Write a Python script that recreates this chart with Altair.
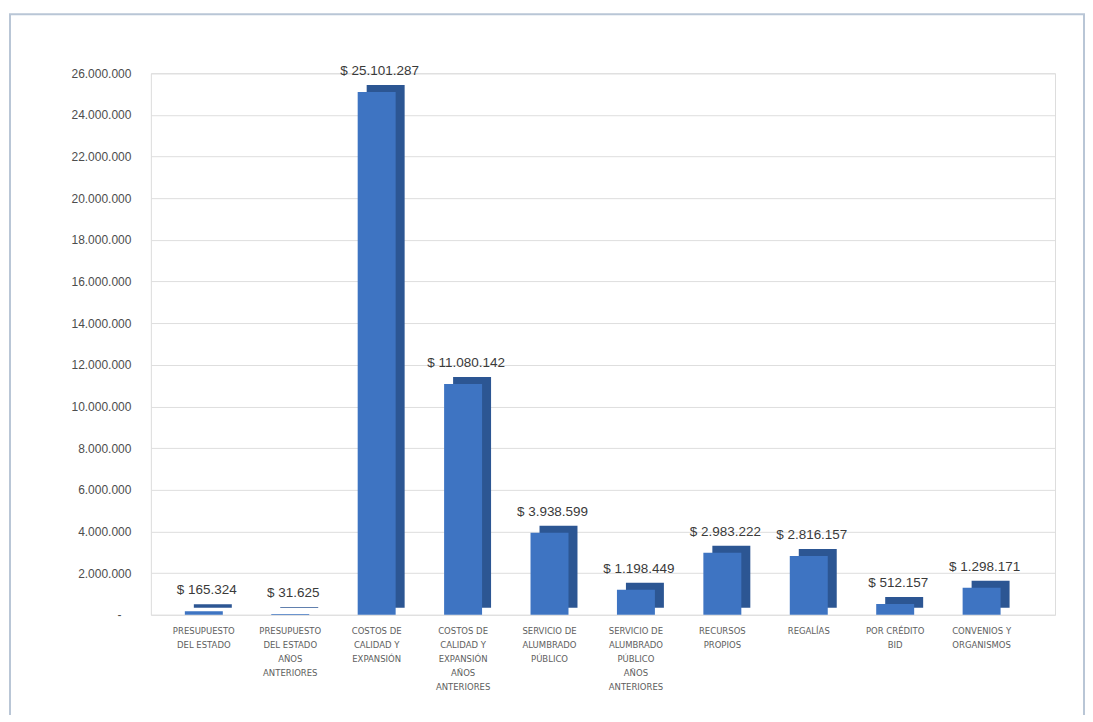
import altair as alt
import pandas as pd

categories = [
    "PRESUPUESTO DEL ESTADO",
    "PRESUPUESTO DEL ESTADO AÑOS ANTERIORES",
    "COSTOS DE CALIDAD Y EXPANSIÓN",
    "COSTOS DE CALIDAD Y EXPANSIÓN AÑOS ANTERIORES",
    "SERVICIO DE ALUMBRADO PÚBLICO",
    "SERVICIO DE ALUMBRADO PÚBLICO AÑOS ANTERIORES",
    "RECURSOS PROPIOS",
    "REGALÍAS",
    "POR CRÉDITO BID",
    "CONVENIOS Y ORGANISMOS",
]
label_lines = [
    ["PRESUPUESTO", "DEL ESTADO"],
    ["PRESUPUESTO", "DEL ESTADO", "AÑOS", "ANTERIORES"],
    ["COSTOS DE", "CALIDAD Y", "EXPANSIÓN"],
    ["COSTOS DE", "CALIDAD Y", "EXPANSIÓN", "AÑOS", "ANTERIORES"],
    ["SERVICIO DE", "ALUMBRADO", "PÚBLICO"],
    ["SERVICIO DE", "ALUMBRADO", "PÚBLICO", "AÑOS", "ANTERIORES"],
    ["RECURSOS", "PROPIOS"],
    ["REGALÍAS"],
    ["POR CRÉDITO", "BID"],
    ["CONVENIOS Y", "ORGANISMOS"],
]
values = [165324, 31625, 25101287, 11080142, 3938599, 1198449,
          2983222, 2816157, 512157, 1298171]
y_ticks = list(range(0, 26000001, 2000000))

df = pd.DataFrame({"cat": categories, "value": values})
df["label"] = ["$ " + f"{v:,}".replace(",", ".") for v in values]

label_map = {c: l for c, l in zip(categories, label_lines)}
label_expr = "{" + ",".join(
    '"%s":[%s]' % (c, ",".join('"%s"' % s for s in l)) for c, l in label_map.items()
) + "}[datum.value]"

font = "Liberation Sans"

x = alt.X(
    "cat:N",
    sort=categories,
    title=None,
    scale=alt.Scale(paddingInner=0, paddingOuter=0.2312, align=0.244),
    axis=alt.Axis(
        labelExpr=label_expr,
        labelAngle=0,
        labelFontSize=8.5,
        labelColor="#5e5e5e",
        labelFont="DejaVu Sans",
        labelPadding=12,
        labelLineHeight=14,
        ticks=False,
        domain=False,
        grid=False,
        labelBaseline="top",
    ),
)
y = alt.Y(
    "value:Q",
    title=None,
    scale=alt.Scale(domain=[0, 26000000], nice=False),
    axis=alt.Axis(
        values=y_ticks,
        labelExpr="datum.value === 0 ? '-' : replace(format(datum.value, ',.0f'), /,/g, '.')",
        labelFontSize=12,
        labelColor="#4d4d4d",
        labelFont=font,
        labelPadding={"condition": {"test": "datum.value === 0", "value": 30}, "value": 20},
        ticks=False,
        domain=False,
        grid=True,
        gridColor="#dedede",
        gridWidth=1,
    ),
)

base = alt.Chart(df)

depth = base.mark_bar(size=38, color="#2c5693", xOffset=9, yOffset=-7).encode(x=x, y=y)
front = base.mark_bar(size=38, color="#3e74c2").encode(x=x, y=y)
text = base.mark_text(
    dy=-14, fontSize=13.5, color="#3a3a3a", font=font, baseline="bottom", dx=3
).encode(x=x, y=y, text="label:N")

frame = alt.Chart(pd.DataFrame({"a": [0]})).mark_rect(
    fill=None, stroke="#b9c6d6", strokeWidth=2
).encode(
    x=alt.value(-141), x2=alt.value(934), y=alt.value(-59), y2=alt.value(720)
)

chart = alt.layer(frame, depth, front, text).properties(
    width=905,
    height=542,
    padding={"left": 143, "top": 65, "right": 30, "bottom": 100},
    autosize=alt.AutoSizeParams(type="none"),
).configure_view(stroke=None).configure(background="white")

chart.save("out.html", embed_options={"renderer": "svg", "actions": False})
